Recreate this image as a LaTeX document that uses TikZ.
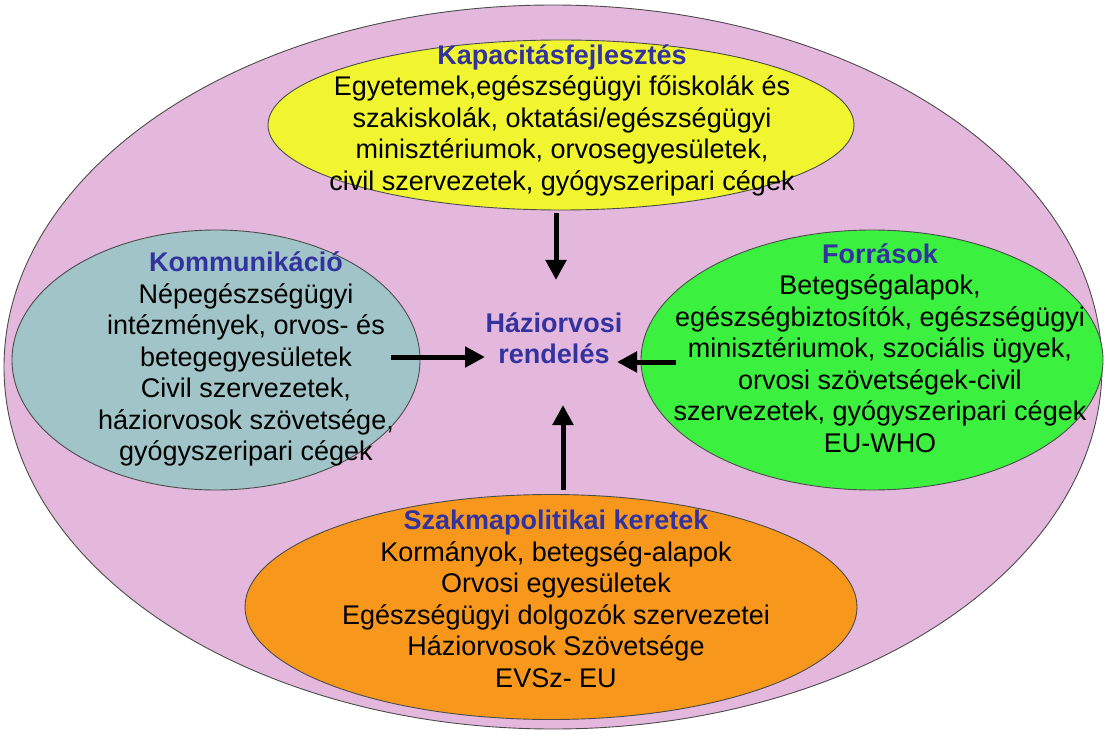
\documentclass[tikz,border=0pt]{standalone}
\usepackage{fontspec}
\setmainfont{Liberation Sans}
\usetikzlibrary{arrows.meta,shapes.geometric}

\definecolor{pinkbg}{RGB}{228,184,220}
\definecolor{kapyellow}{RGB}{240,245,48}
\definecolor{komteal}{RGB}{160,196,200}
\definecolor{forgreen}{RGB}{60,240,64}
\definecolor{szakorange}{RGB}{247,152,29}
\definecolor{titleblue}{RGB}{51,51,160}

\tikzset{
    blob/.style={ellipse, draw=black!70, line width=0.9pt, inner sep=0pt},
    txt/.style={align=center, font=\fontsize{27}{31.5}\selectfont},
    bigarrow/.style={-{Triangle[length=20pt,width=20pt]}, line width=5pt},
}
\newcommand{\ttl}[1]{\textcolor{titleblue}{\bfseries #1}}

\begin{document}
\begin{tikzpicture}[x=1pt,y=-1pt]
    \useasboundingbox (0,0) rectangle (1105,735);

    \node[blob, fill=pinkbg, minimum width=1098pt, minimum height=724pt]      (frame) at (553,367) {};
    \node[blob, fill=kapyellow, minimum width=586pt, minimum height=170pt]    (kap)   at (561,125) {};
    \node[blob, fill=komteal, minimum width=408pt, minimum height=260pt]      (kom)   at (216,360) {};
    \node[blob, fill=forgreen, minimum width=462pt, minimum height=260pt]     (forr)  at (872,360) {};
    \node[blob, fill=szakorange, minimum width=612pt, minimum height=225pt]   (szak)  at (551,607) {};

    \node[txt] (kaptxt) at (562,120) {\ttl{Kapacitásfejlesztés}\\
        Egyetemek,egészségügyi főiskolák és\\
        szakiskolák, oktatási/egészségügyi\\
        minisztériumok, orvosegyesületek,\\
        civil szervezetek, gyógyszeripari cégek};
    \node[txt] (komtxt) at (246,359) {\ttl{Kommunikáció}\\
        Népegészségügyi\\
        intézmények, orvos- és\\
        betegegyesületek\\
        Civil szervezetek,\\
        háziorvosok szövetsége,\\
        gyógyszeripari cégek};
    \node[txt] (forrtxt) at (880,348) {\ttl{Források}\\
        Betegségalapok,\\
        egészségbiztosítók, egészségügyi\\
        minisztériumok, szociális ügyek,\\
        orvosi szövetségek-civil\\
        szervezetek, gyógyszeripari cégek\\
        EU-WHO};
    \node[txt] (szaktxt) at (556,599) {\ttl{Szakmapolitikai keretek}\\
        Kormányok, betegség-alapok\\
        Orvosi egyesületek\\
        Egészségügyi dolgozók szervezetei\\
        Háziorvosok Szövetsége\\
        EVSz- EU};

    \node[txt] (hazi) at (554,338) {\ttl{Háziorvosi}\\ \ttl{rendelés}};

    \coordinate (kapfrom)  at (556,213);
    \coordinate (kapto)    at (556,280);
    \coordinate (komfrom)  at (391,357);
    \coordinate (komto)    at (485,357);
    \coordinate (forrfrom) at (676,362);
    \coordinate (forrto)   at (617,362);
    \coordinate (szakfrom) at (563,490);
    \coordinate (szakto)   at (563,405);

    \draw[bigarrow] (kapfrom) -- (kapto);
    \draw[bigarrow] (komfrom) -- (komto);
    \draw[bigarrow] (forrfrom) -- (forrto);
    \draw[bigarrow] (szakfrom) -- (szakto);
\end{tikzpicture}
\end{document}
